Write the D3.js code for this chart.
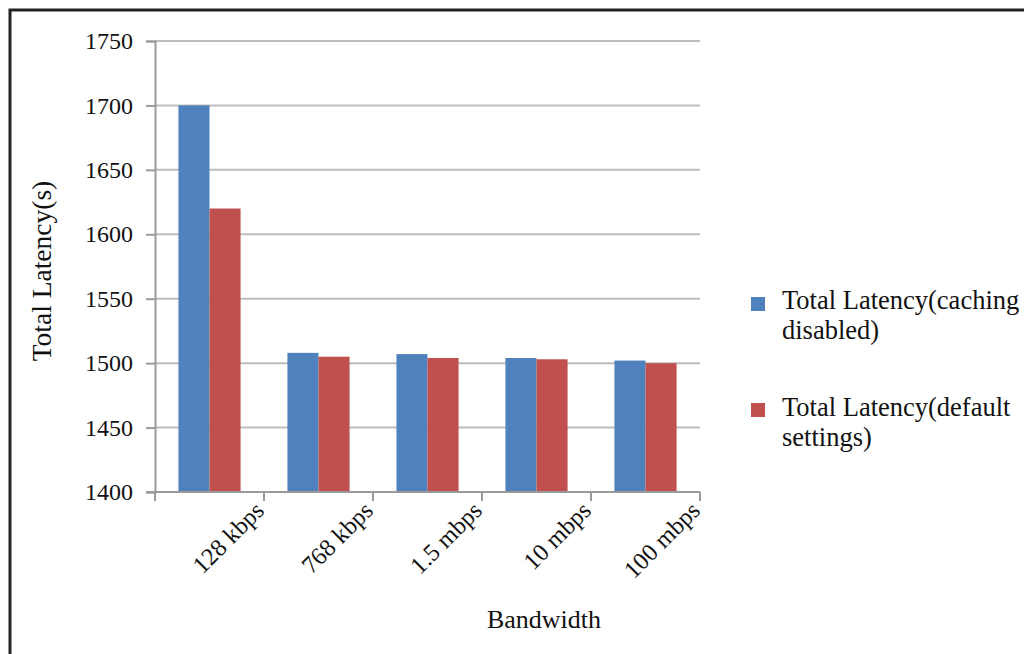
<!DOCTYPE html>
<html>
<head>
<meta charset="utf-8">
<script src="https://cdn.jsdelivr.net/npm/d3@7"></script>
<style>
  html, body { margin: 0; padding: 0; background: #fff; }
  svg { display: block; }
  text { font-family: "Liberation Serif", "Times New Roman", serif; fill: #111; }
</style>
</head>
<body>
<svg id="chart" width="1024" height="654"></svg>
<script>
// Bandwidth categories and the two latency series (seconds)
const categories = ["128 kbps", "768 kbps", "1.5 mbps", "10 mbps", "100 mbps"];
const cachingDisabled = [1700, 1508, 1507, 1504, 1502];
const defaultSettings = [1620, 1505, 1504, 1503, 1500];
const seriesNames = ["Total Latency(caching disabled)", "Total Latency(default settings)"];
const seriesLegendLines = [["Total Latency(caching", "disabled)"], ["Total Latency(default", "settings)"]];
const yTicks = [1400, 1450, 1500, 1550, 1600, 1650, 1700, 1750];
const colors = ["#4f81bd", "#c0504d"];

const svg = d3.select("#chart");

// outer frame (top and left edges visible)
svg.append("rect")
  .attr("x", 10).attr("y", 10)
  .attr("width", 1040).attr("height", 680)
  .attr("fill", "none").attr("stroke", "#222").attr("stroke-width", 3);

const plot = { left: 155, right: 700, top: 41, bottom: 492 };

const x = d3.scaleBand()
  .domain(categories)
  .range([plot.left, plot.right])
  .paddingInner(0.43)
  .paddingOuter(0.215);

const xInner = d3.scaleBand()
  .domain(seriesNames)
  .range([0, x.bandwidth()]);

const y = d3.scaleLinear()
  .domain([yTicks[0], yTicks[yTicks.length - 1]])
  .range([plot.bottom, plot.top]);

// horizontal gridlines
svg.append("g")
  .selectAll("line")
  .data(yTicks.slice(1))
  .join("line")
  .attr("x1", plot.left).attr("x2", plot.right)
  .attr("y1", d => y(d)).attr("y2", d => y(d))
  .attr("stroke", "#bdbdbd").attr("stroke-width", 2);

// bars
const rows = categories.map((c, i) => ({ cat: c, values: [cachingDisabled[i], defaultSettings[i]] }));
svg.append("g")
  .selectAll("g")
  .data(rows)
  .join("g")
  .attr("transform", d => `translate(${x(d.cat)},0)`)
  .selectAll("rect")
  .data(d => d.values.map((v, k) => ({ v, k })))
  .join("rect")
  .attr("x", d => xInner(seriesNames[d.k]))
  .attr("width", xInner.bandwidth())
  .attr("y", d => y(d.v))
  .attr("height", d => y(yTicks[0]) - y(d.v))
  .attr("fill", d => colors[d.k]);

// y axis
const yAxis = svg.append("g")
  .attr("transform", `translate(${plot.left},0)`)
  .call(d3.axisLeft(y).tickValues(yTicks).tickSize(9).tickPadding(13).tickFormat(d3.format("d")));
yAxis.select(".domain").attr("stroke", "#9a9a9a").attr("stroke-width", 2);
yAxis.selectAll(".tick line").attr("stroke", "#9a9a9a").attr("stroke-width", 2);
yAxis.selectAll(".tick text")
  .attr("font-size", 24)
  .style("font-family", '"Liberation Serif", serif')
  .attr("fill", "#111");

// x axis: baseline with tick marks at category boundaries
const xAxis = svg.append("g");
xAxis.append("line")
  .attr("x1", plot.left - 9).attr("x2", plot.right)
  .attr("y1", plot.bottom).attr("y2", plot.bottom)
  .attr("stroke", "#9a9a9a").attr("stroke-width", 2);
xAxis.selectAll("line.tk")
  .data(d3.range(categories.length + 1))
  .join("line")
  .attr("class", "tk")
  .attr("x1", i => plot.left + i * x.step())
  .attr("x2", i => plot.left + i * x.step())
  .attr("y1", plot.bottom).attr("y2", plot.bottom + 9)
  .attr("stroke", "#9a9a9a").attr("stroke-width", 2);

// rotated category labels
xAxis.selectAll("text")
  .data(categories)
  .join("text")
  .attr("transform", d => `translate(${x(d) + x.bandwidth() / 2 + 56},${plot.bottom + 20}) rotate(-45)`)
  .attr("text-anchor", "end")
  .attr("font-size", 24.5)
  .text(d => d);

// axis titles
svg.append("text")
  .attr("x", 544).attr("y", 628)
  .attr("text-anchor", "middle")
  .attr("font-size", 26)
  .text("Bandwidth");

svg.append("text")
  .attr("transform", "translate(51,271) rotate(-90)")
  .attr("text-anchor", "middle")
  .attr("font-size", 27.5)
  .text("Total Latency(s)");

// legend
const legend = svg.append("g");
const legendTops = [297, 403];
const legendBaselines = [309, 416];
seriesNames.forEach((name, k) => {
  legend.append("rect")
    .attr("x", 751).attr("y", legendTops[k])
    .attr("width", 14).attr("height", 14)
    .attr("fill", colors[k]);
  const t = legend.append("text")
    .attr("x", 782).attr("y", legendBaselines[k])
    .attr("font-size", 26.5);
  seriesLegendLines[k].forEach((line, j) => {
    t.append("tspan").attr("x", 782).attr("dy", j === 0 ? 0 : 29.5).text(line);
  });
});
</script>
</body>
</html>
